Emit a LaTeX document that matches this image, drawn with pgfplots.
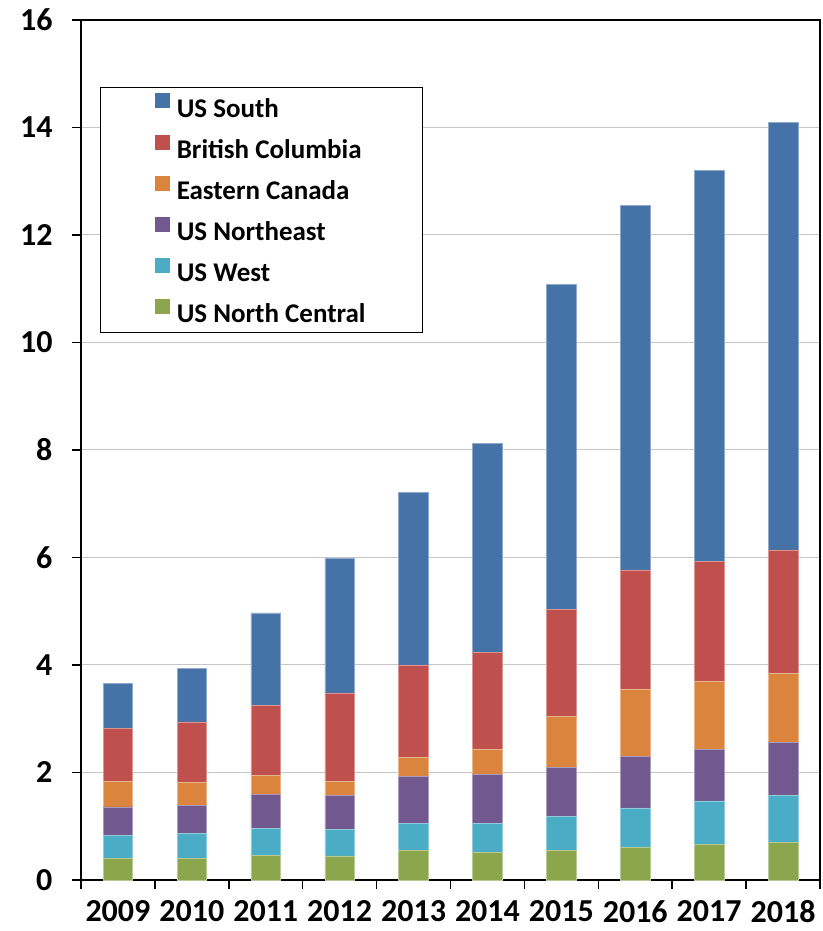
\documentclass[border=0pt]{standalone}
\usepackage{fontspec}
\setmainfont{Carlito}
\usepackage{pgfplots}
\pgfplotsset{compat=1.18}

\definecolor{cSouth}{HTML}{4572A7}
\definecolor{cBC}{HTML}{C0504D}
\definecolor{cEC}{HTML}{DB843D}
\definecolor{cNE}{HTML}{71588F}
\definecolor{cWest}{HTML}{4BACC6}
\definecolor{cNC}{HTML}{8BA64D}

% columns: x = year index (0 = 2009)
\pgfplotstableread{
x  NC    West  NE    EC    BC    South
0  0.40  0.43  0.53  0.48  0.98  0.84
1  0.40  0.46  0.53  0.43  1.12  1.00
2  0.46  0.50  0.63  0.35  1.31  1.72
3  0.45  0.49  0.63  0.27  1.64  2.50
4  0.55  0.51  0.86  0.36  1.72  3.21
5  0.51  0.55  0.90  0.47  1.80  3.89
6  0.55  0.63  0.92  0.95  1.99  6.04
7  0.61  0.73  0.96  1.25  2.22  6.78
8  0.66  0.81  0.96  1.26  2.23  7.28
9  0.70  0.87  0.99  1.29  2.29  7.96
}\gasdata

\begin{document}
\begin{tikzpicture}
\begin{axis}[
    scale only axis,
    width=739pt, height=860pt,
    ybar stacked,
    bar width=0.4,
    xmin=-0.5, xmax=9.5,
    ymin=0, ymax=16,
    ytick={0,2,...,16},
    xtick={0,...,9},
    xticklabels={2009,2010,2011,2012,2013,2014,2015,2016,2017,2018},
    minor xtick={-0.5,0.5,...,9.5},
    major x tick style={draw=none},
    tick align=outside,
    tick pos=left,
    major tick length=9pt,
    minor tick length=9pt,
    tick style={black, line width=1.5pt},
    axis line style={black, line width=2pt},
    ymajorgrids,
    grid style={gray!45, line width=1pt},
    /pgf/number format/assume math mode=true,
    ticklabel style={font=\fontsize{32}{36}\selectfont\bfseries},
    yticklabel style={xshift=-16pt},
    xticklabel style={yshift=-8pt},
    reverse legend,
    legend cell align=left,
    legend style={
        at={(0.0257,0.9221)}, anchor=north west,
        draw=black, line width=1pt,
        font=\fontsize{27}{31}\selectfont\bfseries,
        inner xsep=55pt, inner ysep=6pt,
        row sep=14pt,
    },
    legend image code/.code={\fill[#1, draw=none] (0pt,0pt) rectangle (15pt,15pt); \path (19pt,0pt);},
]
\addplot[fill=cNC, draw=cNC!60!white, line width=0.6pt] table[x=x, y=NC] {\gasdata};
\addplot[fill=cWest, draw=cWest!60!white, line width=0.6pt] table[x=x, y=West] {\gasdata};
\addplot[fill=cNE, draw=cNE!60!white, line width=0.6pt] table[x=x, y=NE] {\gasdata};
\addplot[fill=cEC, draw=cEC!60!white, line width=0.6pt] table[x=x, y=EC] {\gasdata};
\addplot[fill=cBC, draw=cBC!60!white, line width=0.6pt] table[x=x, y=BC] {\gasdata};
\addplot[fill=cSouth, draw=cSouth!60!white, line width=0.6pt] table[x=x, y=South] {\gasdata};
\legend{US North Central, US West, US Northeast, Eastern Canada, British Columbia, US South}
\end{axis}
\path ([shift={(-81pt,-51pt)}]current axis.south west) rectangle ([shift={(3pt,20pt)}]current axis.north east);
\end{tikzpicture}
\end{document}
